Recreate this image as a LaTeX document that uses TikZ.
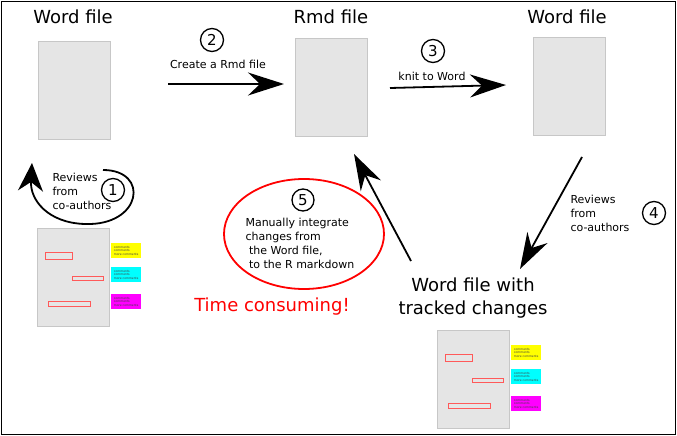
\documentclass[tikz,border=0pt]{standalone}
\usepackage{fontspec}
\setmainfont{DejaVu Sans}
\usetikzlibrary{arrows.meta,shapes.geometric}

\definecolor{noteyellow}{RGB}{255,255,0}
\definecolor{notecyan}{RGB}{0,255,255}
\definecolor{notemagenta}{RGB}{255,0,255}

\tikzset{
	page/.style={rectangle,draw=black!22,fill=black!10,line width=0.8pt,minimum width=72pt,minimum height=98pt,inner sep=0pt},
	title/.style={font=\fontsize{18}{23}\selectfont,align=center},
	step num/.style={circle,draw,line width=1.3pt,minimum size=23pt,inner sep=0pt,font=\fontsize{15}{15}\selectfont},
	small/.style={font=\fontsize{11}{14}\selectfont,align=left},
	note/.style={rectangle,anchor=north west,minimum width=30pt,minimum height=15pt,inner sep=0.6pt,align=left,text=black!75,font=\fontsize{3}{3.7}\selectfont},
	mark box/.style={draw=red!65,line width=0.9pt},
	bigarrow/.style={line width=1.8pt,-{Stealth[length=36pt,width=23pt,inset=12pt]}},
}

\begin{document}
\begin{tikzpicture}[x=1pt,y=-1pt]
	\useasboundingbox (0,0) rectangle (677,436);
	\draw[line width=0.9pt] (1,1) rectangle (675,434);

	% top row
	\node 	(t1)		at	(73,17) 	[title]{Word file};
	\node 	(p1)		at	(74,90) 	[page]{};

	\node 	(t2)		at	(331,17) 	[title]{Rmd file};
	\node 	(p2)		at	(331,87.5) 	[page]{};

	\node 	(t3)		at	(567,17) 	[title]{Word file};
	\node 	(p3)		at	(569.5,86) 	[page]{};

	% reviewed pages
	\foreach \pg/\px/\py in {revleft/37/228,revright/437/330}{
		\node 	(\pg)		at	(\px+36.5,\py+49.5) 	[page]{};
		\draw[mark box] (\px+8,\py+24) rectangle (\px+35,\py+31);
		\draw[mark box] (\px+35,\py+48.5) rectangle (\px+66,\py+52.5);
		\draw[mark box] (\px+11,\py+73) rectangle (\px+53,\py+78);
		\node 	(\pg c1)	at	(\px+74,\py+15) 	[note,fill=noteyellow]{comments\\comments\\more comments};
		\node 	(\pg c2)	at	(\px+74,\py+39) 	[note,fill=notecyan]{comments\\comments\\more comments};
		\node 	(\pg c3)	at	(\px+74,\py+66) 	[note,fill=notemagenta]{comments\\comments\\more comments};
	}

	\node 	(t4)		at	(473,298) 	[title]{Word file with\\tracked changes};

	% step 1
	\node 	(n1)		at	(113,190) 	[step num]{1};
	\node 	(l1)		at	(49,191) 	[small,anchor=west]{Reviews\\from\\co-authors};
	\coordinate (s1) at (103,170);
	\coordinate (e1) at (32,163);
	\draw[line width=1.8pt,-{Stealth[length=28pt,width=25pt,inset=9pt]}] (s1) .. controls (150,170) and (142,226) .. (85,224) .. controls (48,223) and (30,200) .. (e1);

	% step 2
	\node 	(n2)		at	(212,40) 	[step num]{2};
	\node 	(l2)		at	(218,64) 	[small]{Create a Rmd file};
	\coordinate (s2) at (168,84);
	\coordinate (e2) at (284,84);
	\draw[bigarrow] (s2) -- (e2);

	% step 3
	\node 	(n3)		at	(433,51) 	[step num]{3};
	\node 	(l3)		at	(432,76) 	[small]{knit to Word};
	\coordinate (s3) at (390,88);
	\coordinate (e3) at (506,85);
	\draw[bigarrow] (s3) -- (e3);

	% step 4
	\node 	(n4)		at	(654,213) 	[step num]{4};
	\node 	(l4)		at	(567,213) 	[small,anchor=west]{Reviews\\from\\co-authors};
	\coordinate (s4) at (582,157);
	\coordinate (e4) at (520,269);
	\draw[bigarrow] (s4) -- (e4);

	% step 5
	\node 	(ell)		at	(304,234) 	[ellipse,draw=red,line width=1.8pt,minimum width=160pt,minimum height=110pt]{};
	\node 	(n5)		at	(303,200) 	[step num,minimum size=22pt]{5};
	\node 	(l5)		at	(242,243) 	[small,anchor=west]{Manually integrate\\changes from\\\ the Word file,\\\ to the R markdown};
	\node 	(tc)		at	(272,307) 	[text=red,font=\fontsize{18}{20}\selectfont]{Time consuming!};
	\coordinate (s5) at (411,261);
	\coordinate (e5) at (354,154);
	\draw[bigarrow] (s5) -- (e5);

\end{tikzpicture}
\end{document}
